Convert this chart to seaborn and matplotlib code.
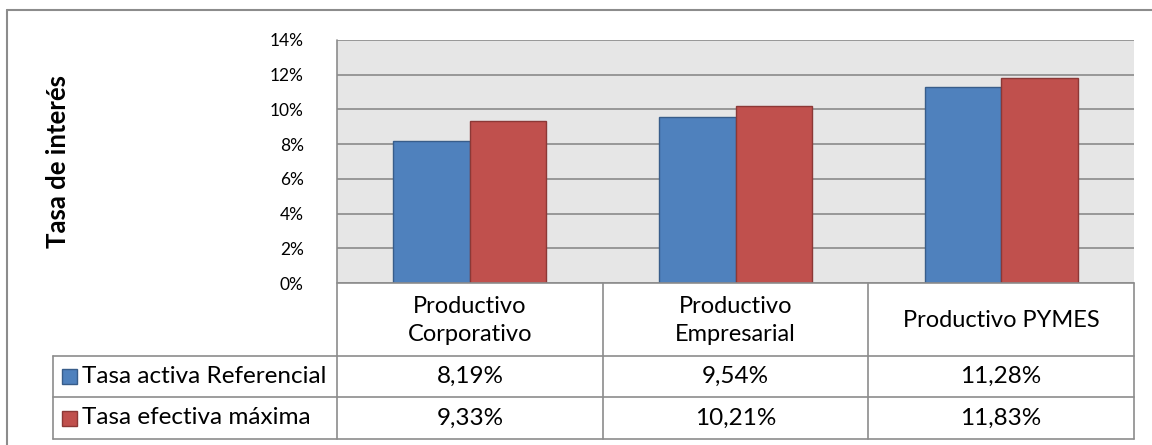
import matplotlib
matplotlib.use("Agg")
import matplotlib.pyplot as plt
from matplotlib.lines import Line2D
from matplotlib.patches import Rectangle
import pandas as pd
import seaborn as sns

categories = ["Productivo\nCorporativo", "Productivo\nEmpresarial", "Productivo PYMES"]
series_names = ["Tasa activa Referencial", "Tasa efectiva máxima"]
tasa_activa = [8.19, 9.54, 11.28]
tasa_efectiva = [9.33, 10.21, 11.83]
y_ticks = [0, 2, 4, 6, 8, 10, 12, 14]

fills = ["#4F81BD", "#C0504D"]
edges = ["#385D8A", "#8C3836"]
grid_col = "#8A8A8A"
line_col = "#8C8C8C"

sns.set_theme(style="white")
plt.rcParams["font.family"] = ["Lato", "DejaVu Sans"]

W, H = 1152, 445
fig = plt.figure(figsize=(W / 100, H / 100), dpi=100)


def fx(px):
    return px / W


def fy(py):
    return 1 - py / H


# plot area in pixel layout
left, right, top, bottom = 337, 1134, 40, 283
ax = fig.add_axes([fx(left), fy(bottom), fx(right) - fx(left), fy(top) - fy(bottom)])

df = pd.DataFrame({
    "cat": categories * 2,
    "serie": [series_names[0]] * 3 + [series_names[1]] * 3,
    "valor": tasa_activa + tasa_efectiva,
})
sns.barplot(data=df, x="cat", y="valor", hue="serie", palette=fills,
            width=0.575, gap=0, ax=ax, legend=False, saturation=1,
            edgecolor="none", zorder=3)
for i, cont in enumerate(ax.containers):
    for bar in cont:
        bar.set_edgecolor(edges[i])
        bar.set_linewidth(1.0)

ax.set_facecolor("#E6E6E6")
ax.set_ylim(0, 14)
ax.set_xlim(-0.5, 2.5)
ax.set_yticks(y_ticks)
ax.set_yticklabels([f"{t}%" for t in y_ticks], fontsize=12.5, color="#000000")
ax.tick_params(axis="y", length=0, pad=24)
ax.tick_params(axis="x", length=0, labelbottom=False)
ax.set_xlabel("")
ax.set_ylabel("")
for t in y_ticks:
    ax.axhline(t, color=grid_col, lw=1.2, zorder=1)
for s in ["top", "right", "bottom", "left"]:
    ax.spines[s].set_visible(False)

# outer chart border (top and left)
fig.add_artist(Line2D([fx(7), fx(W)], [fy(10), fy(10)], color="#8C8C8C", lw=1.5))
fig.add_artist(Line2D([fx(7), fx(7)], [fy(10), fy(H)], color="#8C8C8C", lw=1.5))

# axis title
fig.text(fx(58), fy(162), "Tasa de interés", rotation=90, ha="center", va="center",
         fontsize=18.5, fontweight="bold", color="#000000")

# data table grid
col_x = [337, 603, 868, 1134]
row_y = [283, 356, 397, 439]
legend_left = 53


def hline(y, x0, x1):
    fig.add_artist(Line2D([fx(x0), fx(x1)], [fy(y), fy(y)], color=line_col, lw=1.2))


def vline(x, y0, y1):
    fig.add_artist(Line2D([fx(x), fx(x)], [fy(y0), fy(y1)], color=line_col, lw=1.2))


hline(row_y[0], col_x[0], col_x[-1])
for y in row_y[1:]:
    hline(y, legend_left, col_x[-1])
vline(col_x[0], top, row_y[-1])
for x in col_x[1:]:
    vline(x, row_y[0], row_y[-1])
vline(legend_left, row_y[1], row_y[-1])

# category headers
for i, cat in enumerate(categories):
    cx = (col_x[i] + col_x[i + 1]) / 2
    cy = (row_y[0] + row_y[1]) / 2 + 1
    fig.text(fx(cx), fy(cy), cat, ha="center", va="center", fontsize=17,
             linespacing=1.45, color="#000000")


def fmt(v):
    return f"{v:.2f}%".replace(".", ",")


for r, (name, vals) in enumerate(zip(series_names, [tasa_activa, tasa_efectiva])):
    cy = (row_y[r + 1] + row_y[r + 2]) / 2
    # legend key
    fig.add_artist(Rectangle((fx(62), fy(cy + 7.5)), fx(15), fy(0) - fy(15),
                             facecolor=fills[r], edgecolor=edges[r], lw=1.0))
    fig.text(fx(82), fy(cy), name, ha="left", va="center", fontsize=17.5, color="#000000")
    for i, v in enumerate(vals):
        cx = (col_x[i] + col_x[i + 1]) / 2
        fig.text(fx(cx), fy(cy), fmt(v), ha="center", va="center", fontsize=17.5,
                 color="#000000")

fig.savefig("out.png", dpi=100, facecolor="white")
